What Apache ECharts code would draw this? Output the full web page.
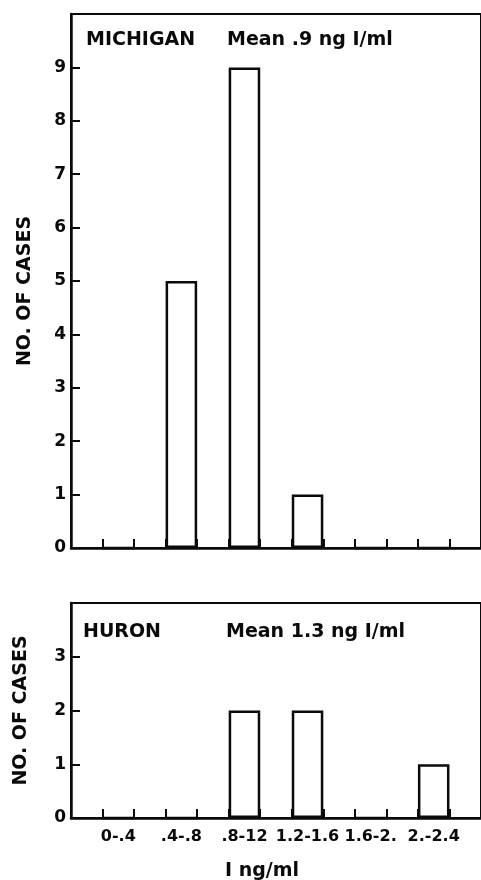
<!DOCTYPE html>
<html>
<head>
<meta charset="utf-8">
<script src="https://cdn.jsdelivr.net/npm/echarts@6/dist/echarts.min.js"></script>
<style>
  html, body { margin: 0; padding: 0; background: #fff; }
  #chart { width: 481px; height: 880px; }
</style>
</head>
<body>
<div id="chart"></div>
<script>
// Iodine concentration bins (ng/ml) and case counts per lake region
const binLabels = ['0-.4', '.4-.8', '.8-12', '1.2-1.6', '1.6-2.', '2.-2.4'];
const michiganCases = [0, 5, 9, 1, 0, 0];
const huronCases = [0, 0, 2, 2, 0, 1];
const michiganTitle = ['MICHIGAN', 'Mean .9 ng I/ml'];
const huronTitle = ['HURON', 'Mean 1.3 ng I/ml'];
const michiganMax = 10;
const huronMax = 4;

// Each bin gets one bar slot followed by an empty slot, after one leading empty slot.
function slotLabels(labels) {
  const out = [''];
  labels.forEach(l => { out.push(l, ''); });
  return out;
}
function slotValues(values) {
  const out = [null];
  values.forEach(v => { out.push(v, null); });
  return out;
}

const ink = '#0a0a0a';
const font = 'DejaVu Sans';
const slots = slotLabels(binLabels);

function xAxisFor(gridIndex, showLabels) {
  const ax = {
    gridIndex: gridIndex,
    type: 'category',
    data: slots,
    boundaryGap: true,
    axisLine: { show: true, lineStyle: { color: ink, width: 2.5 } },
    axisTick: { show: true, inside: true, length: 9, interval: 0, alignWithLabel: false,
                lineStyle: { color: ink, width: 2 } },
    axisLabel: { show: showLabels, interval: 0, margin: 11, color: ink, hideOverlap: false,
                 fontFamily: font, fontWeight: 'bold', fontSize: 16 },
    splitLine: { show: false }
  };
  if (showLabels) {
    ax.name = 'I ng/ml';
    ax.nameLocation = 'middle';
    ax.nameGap = 44;
    ax.nameTextStyle = { color: ink, fontFamily: font, fontWeight: 'bold', fontSize: 19,
                         padding: [0, 28, 0, 0] };
  }
  return ax;
}

function yAxisFor(gridIndex, max, nameGap, namePad) {
  return {
    gridIndex: gridIndex,
    type: 'value',
    min: 0,
    max: max,
    interval: 1,
    axisLine: { show: true, lineStyle: { color: ink, width: 2.5 } },
    axisTick: { show: true, inside: true, length: 9, lineStyle: { color: ink, width: 2 } },
    axisLabel: { show: true, showMaxLabel: false, margin: 5, color: ink,
                 fontFamily: font, fontWeight: 'bold', fontSize: 17 },
    splitLine: { show: false },
    name: 'NO. OF CASES',
    nameLocation: 'middle',
    nameGap: nameGap,
    nameRotate: 90,
    nameTextStyle: { color: ink, fontFamily: font, fontWeight: 'bold', fontSize: 19,
                     padding: namePad }
  };
}

function barSeries(index, values) {
  return {
    type: 'bar',
    xAxisIndex: index,
    yAxisIndex: index,
    data: slotValues(values),
    barWidth: '100%',
    itemStyle: { color: '#fff', borderColor: ink, borderWidth: 2.5 },
    silent: true
  };
}

const titleStyle = { color: ink, fontFamily: font, fontWeight: 'bold', fontSize: 19 };

const chart = echarts.init(document.getElementById('chart'), null, { renderer: 'canvas' });
chart.setOption({
  animation: false,
  backgroundColor: '#fff',
  title: [
    { text: michiganTitle[0], left: 86, top: 31, padding: 0, textStyle: titleStyle },
    { text: michiganTitle[1], left: 227, top: 31, padding: 0, textStyle: titleStyle },
    { text: huronTitle[0], left: 83, top: 623, padding: 0, textStyle: titleStyle },
    { text: huronTitle[1], left: 226, top: 623, padding: 0, textStyle: titleStyle }
  ],
  grid: [
    { left: 71, top: 14, width: 410, height: 534, show: true, borderColor: ink, borderWidth: 2,
      backgroundColor: 'transparent', containLabel: false, outerBoundsMode: 'none' },
    { left: 71, top: 603, width: 410, height: 215, show: true, borderColor: ink, borderWidth: 2,
      backgroundColor: 'transparent', containLabel: false, outerBoundsMode: 'none' }
  ],
  xAxis: [xAxisFor(0, false), xAxisFor(1, true)],
  yAxis: [yAxisFor(0, michiganMax, 36, [0, 20, 0, 0]), yAxisFor(1, huronMax, 40, [0, 0, 0, 0])],
  series: [barSeries(0, michiganCases), barSeries(1, huronCases)]
});
</script>
</body>
</html>
